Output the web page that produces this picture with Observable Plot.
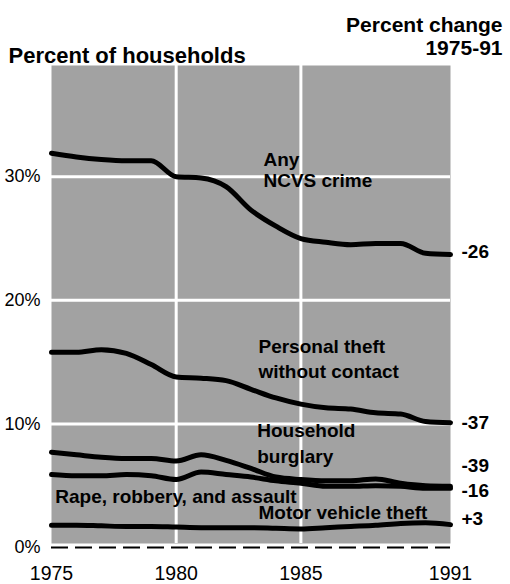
<!DOCTYPE html>
<html><head><meta charset="utf-8">
<script src="https://cdn.jsdelivr.net/npm/d3@7"></script>
<script src="https://cdn.jsdelivr.net/npm/@observablehq/plot@0.6"></script>
<style>body{margin:0;background:#fff}#chart{width:510px;height:584px}</style>
</head><body><div id="chart"></div>
<script>
const years = [1975,1976,1977,1978,1979,1980,1981,1982,1983,1984,1985,1986,1987,1988,1989,1990,1991];
const anyCrime      = [31.9,31.6,31.4,31.3,31.3,30.0,29.9,29.2,27.3,26.0,25.0,24.7,24.5,24.6,24.6,23.8,23.7];
const personalTheft = [15.8,15.8,16.0,15.7,14.8,13.8,13.7,13.5,12.8,12.1,11.6,11.3,11.2,10.9,10.8,10.2,10.1];
const burglary      = [7.7,7.5,7.3,7.2,7.2,7.0,7.5,7.05,6.4,5.7,5.5,5.4,5.4,5.55,5.2,5.0,4.95];
const rapeRobAssault= [5.9,5.8,5.8,5.9,5.8,5.5,6.1,5.9,5.7,5.4,5.2,4.95,4.95,5.0,4.95,4.8,4.8];
const motorVehicle  = [1.8,1.8,1.75,1.7,1.7,1.65,1.6,1.6,1.6,1.55,1.5,1.6,1.7,1.8,1.95,2.0,1.85];

const seriesNames = ["Any NCVS crime","Personal theft without contact","Household burglary","Rape, robbery, and assault","Motor vehicle theft"];
const seriesValues = [anyCrime, personalTheft, burglary, rapeRobAssault, motorVehicle];
const changeLabels = ["-26","-37","-39","-16","+3"];
const changeLabelY = [23.9, 10.1, 6.6, 4.55, 2.34];

const yTicks = [0,10,20,30];
const xTicks = [1975,1980,1985,1991];

// series label annotations (text, x-year, y-value)
const labelText = ["Any","NCVS crime","Personal theft","without contact","Household","burglary","Rape, robbery, and assault","Motor vehicle theft"];
const labelX    = [1983.5,1983.5,1983.3,1983.3,1983.25,1983.25,1975.15,1983.3];
const labelY    = [31.4,29.65,16.2,14.2,9.4,7.35,4.1,2.8];

const data = seriesNames.flatMap((s,k) => years.map((yr,i) => ({series:s, year:yr, value:seriesValues[k][i]})));
const labels = labelText.map((t,i) => ({text:t, x:labelX[i], y:labelY[i]}));
const ends = changeLabels.map((t,i) => ({text:t, y:changeLabelY[i]}));

const bold = {fontWeight:"bold", fill:"black"};
const plot = Plot.plot({
  width:510, height:584,
  marginLeft:51, marginRight:60, marginTop:65, marginBottom:37,
  x:{domain:[1975,1991]},
  y:{domain:[0,39]},
  style:{fontFamily:"'Liberation Sans', Arial, Helvetica, sans-serif", background:"#fff", overflow:"visible"},
  marks:[
    Plot.frame({fill:"#a2a2a2", stroke:null, insetBottom:4}),
    Plot.ruleY(yTicks.filter(d=>d>0), {stroke:"white", strokeWidth:3}),
    Plot.ruleX([1980,1985], {stroke:"white", strokeWidth:3, insetBottom:4}),
    Plot.ruleY([0], {stroke:"black", strokeWidth:2, strokeDasharray:"17,7"}),
    Plot.line(data, {x:"year", y:"value", z:"series", stroke:"black", strokeWidth:5, curve:"monotone-x"}),
    Plot.text(labels, {x:"x", y:"y", text:"text", textAnchor:"start", fontSize:19, ...bold}),
    Plot.text(ends, {x:() => 1991, y:"y", text:"text", dx:11, textAnchor:"start", fontSize:19, ...bold}),
    Plot.axisY(yTicks, {tickFormat:d => d + "%", tickSize:0, tickPadding:11, fontSize:18, label:null}),
    Plot.axisX(xTicks, {tickFormat:d => String(d), tickSize:0, tickPadding:19, fontSize:19.5, label:null}),
    Plot.text(["Percent of households"], {frameAnchor:"top-left", dx:-43, dy:-18, textAnchor:"start", fontSize:22, ...bold}),
    Plot.text(["Percent change"], {frameAnchor:"top-right", dx:52, dy:-48, textAnchor:"end", fontSize:21, ...bold}),
    Plot.text(["1975-91"], {frameAnchor:"top-right", dx:52, dy:-25, textAnchor:"end", fontSize:21, ...bold})
  ]
});
document.getElementById("chart").appendChild(plot);
</script>
</body></html>
